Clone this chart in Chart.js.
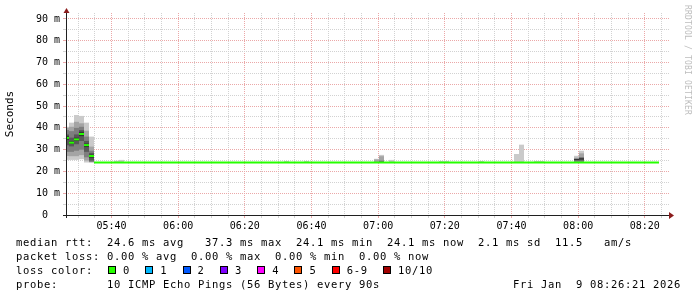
<!DOCTYPE html>
<html>
<head>
<meta charset="utf-8">
<script src="https://cdn.jsdelivr.net/npm/chart.js@4.4.1/dist/chart.umd.min.js"></script>
<style>
  html, body { margin: 0; padding: 0; background: #ffffff; }
  #wrap { position: relative; width: 697px; height: 297px; overflow: hidden; background: #ffffff; }
  #chart { position: absolute; left: 0; top: 0; }
  .txt { position: absolute; font-family: "DejaVu Sans Mono", monospace; font-size: 10.5px; letter-spacing: 0.678px;
         line-height: 14px; white-space: pre; color: #000; }
  #lossRow { display: flex; align-items: center; }
  .box { display: inline-block; width: 8px; height: 8px; box-sizing: border-box; border: 1px solid #000; margin-right: 7px; }
  .lbl { display: inline-block; margin-right: 15.3px; }
  #mark { position: absolute; left: 683px; top: 5px; font-family: "DejaVu Sans Mono", monospace; font-size: 8px;
          letter-spacing: 0.18px; line-height: 8px; writing-mode: vertical-rl; color: #bdbdbd; white-space: pre; }
</style>
</head>
<body>
<div id="wrap">
  <canvas id="chart" width="697" height="297"></canvas>
  <div class="txt" id="row1" style="left:16px; top:235px;"></div>
  <div class="txt" id="row2" style="left:16px; top:249px;"></div>
  <div class="txt" id="lossRow" style="left:16px; top:263px;"></div>
  <div class="txt" id="row4" style="left:16px; top:277px;"></div>
  <div class="txt" id="stamp" style="left:513px; top:277px;"></div>
  <div id="mark"></div>
</div>
<script>
// ---------------- data ----------------
const axisStart = '05:26:21';
const axisEnd = '08:27:15';
const yMax = 92.75;
const firstSample = '05:26:30';
const sampleStepSeconds = 90;

// median RTT (ms) per 90 s step, all with 0 % loss
const medianRtt = [
  35.4, 33.2, 34.7, 37.2, 32.1, 27.1,
  24.1, 24.1, 24.1, 24.1, 24.1, 24.1, 24.1, 24.1, 24.1, 24.1,
  24.1, 24.1, 24.1, 24.1, 24.1, 24.1, 24.1, 24.1, 24.1, 24.1,
  24.1, 24.1, 24.1, 24.1, 24.1, 24.1, 24.1, 24.1, 24.1, 24.1,
  24.1, 24.1, 24.1, 24.1, 24.1, 24.1, 24.1, 24.1, 24.1, 24.1,
  24.1, 24.1, 24.1, 24.1, 24.1, 24.1, 24.1, 24.1, 24.1, 24.1,
  24.1, 24.1, 24.1, 24.1, 24.1, 24.1, 24.1, 24.1, 24.1, 24.1,
  24.1, 24.1, 24.1, 24.1, 24.1, 24.1, 24.1, 24.1, 24.1, 24.1,
  24.1, 24.1, 24.1, 24.1, 24.1, 24.1, 24.1, 24.1, 24.1, 24.1,
  24.1, 24.1, 24.1, 24.1, 24.1, 24.1, 24.1, 24.1, 24.1, 24.1,
  24.1, 24.1, 24.1, 24.1, 24.1, 24.1, 24.1, 24.1, 24.1, 24.1,
  24.1, 24.1, 24.1, 24.1, 24.1, 24.1, 24.1, 24.1, 24.1, 24.1,
  24.1, 24.1, 24.1
];

// sample times where the smoke (10 sorted pings) is visible
const smokeTimes = [
  '05:26:30', '05:28:00', '05:29:30', '05:31:00', '05:32:30', '05:34:00',
  '05:41:30', '05:43:00', '06:32:30', '06:38:30',
  '06:59:30', '07:01:00', '07:04:00', '07:19:00', '07:20:30', '07:31:00',
  '07:41:30', '07:43:00', '07:47:30', '07:49:00', '07:59:30', '08:01:00'
];
const smokePings = [
  [25.3, 27.1, 29.0, 32.0, 34.5, 36.3, 37.0, 39.0, 40.0, 40.5],
  [25.3, 27.0, 29.0, 31.5, 32.6, 33.8, 35.5, 38.5, 40.5, 42.4],
  [25.3, 27.0, 29.5, 32.5, 34.0, 35.5, 37.0, 40.0, 42.8, 45.9],
  [25.6, 27.5, 30.0, 34.0, 36.2, 38.2, 39.0, 40.5, 42.1, 45.5],
  [24.1, 25.0, 26.5, 29.0, 31.2, 32.8, 34.0, 36.0, 38.7, 42.4],
  [24.1, 24.2, 24.4, 25.0, 26.3, 27.7, 28.5, 29.5, 31.4, 36.0],
  [24.0, 24.0, 24.1, 24.1, 24.1, 24.1, 24.2, 24.2, 24.3, 24.9],
  [24.0, 24.0, 24.1, 24.1, 24.1, 24.1, 24.2, 24.2, 24.3, 25.3],
  [24.0, 24.0, 24.1, 24.1, 24.1, 24.1, 24.2, 24.2, 24.3, 24.8],
  [24.0, 24.0, 24.1, 24.1, 24.1, 24.1, 24.2, 24.2, 24.3, 24.8],
  [24.0, 24.1, 24.1, 24.1, 24.1, 24.2, 24.2, 24.3, 25.5, 25.8],
  [24.0, 24.1, 24.1, 24.2, 24.2, 24.3, 24.5, 25.0, 27.0, 27.6],
  [24.0, 24.0, 24.1, 24.1, 24.1, 24.1, 24.2, 24.2, 24.3, 25.3],
  [24.0, 24.0, 24.1, 24.1, 24.1, 24.1, 24.2, 24.2, 24.3, 24.8],
  [24.0, 24.0, 24.1, 24.1, 24.1, 24.1, 24.2, 24.2, 24.3, 24.8],
  [24.0, 24.0, 24.1, 24.1, 24.1, 24.1, 24.2, 24.2, 24.3, 24.8],
  [24.0, 24.0, 24.1, 24.1, 24.1, 24.1, 24.2, 24.2, 24.3, 28.0],
  [24.0, 24.0, 24.1, 24.1, 24.1, 24.1, 24.2, 24.2, 24.3, 32.3],
  [24.0, 24.0, 24.1, 24.1, 24.1, 24.1, 24.2, 24.2, 24.3, 24.8],
  [24.0, 24.0, 24.1, 24.1, 24.1, 24.1, 24.2, 24.2, 24.3, 24.8],
  [24.1, 24.2, 24.5, 25.0, 25.3, 25.7, 25.7, 25.9, 26.3, 27.2],
  [24.1, 24.3, 24.5, 25.0, 25.5, 26.0, 26.3, 26.5, 28.3, 29.5]
];

const yTickValues = [0, 10, 20, 30, 40, 50, 60, 70, 80, 90];
const yTickLabels = ['0  ', '10 m', '20 m', '30 m', '40 m', '50 m', '60 m', '70 m', '80 m', '90 m'];
const xTickLabels = ['05:40', '06:00', '06:20', '06:40', '07:00', '07:20', '07:40', '08:00', '08:20'];

const lossLabels = ['0', '1', '2', '3', '4', '5', '6-9', '10/10'];
const lossColors = ['#26ff00', '#00b8ff', '#0059ff', '#7e00ff', '#ff00ff', '#ff5500', '#ff0000', '#a10000'];
const smokeColors = ['#cacaca', '#a4a4a4', '#7e7e7e', '#585858', '#323232'];

const summaryRtt = 'median rtt:  24.6 ms avg   37.3 ms max  24.1 ms min  24.1 ms now  2.1 ms sd  11.5   am/s';
const summaryLoss = 'packet loss: 0.00 % avg  0.00 % max  0.00 % min  0.00 % now';
const probeText = 'probe:       10 ICMP Echo Pings (56 Bytes) every 90s';
const stampText = 'Fri Jan  9 08:26:21 2026';
const watermark = 'RRDTOOL / TOBI OETIKER';

// ---------------- helpers ----------------
function toMin(s) { const p = s.split(':').map(Number); return p[0] * 60 + p[1] + (p[2] || 0) / 60; }
function fmtTime(v) { const h = Math.floor(v / 60), m = Math.round(v - h * 60); return String(h).padStart(2, '0') + ':' + String(m).padStart(2, '0'); }

const xMin = toMin(axisStart), xMax = toMin(axisEnd);
const sample0 = toMin(firstSample);
const medianHalfBand = yMax / 202; // about one pixel

const datasets = [];
datasets.push({
  label: 'median',
  order: 0,
  backgroundColor: lossColors[0],
  data: medianRtt.map((m, k) => ({ x: sample0 + k * sampleStepSeconds / 60, y: [m - medianHalfBand, m + medianHalfBand] }))
});
for (let layer = 0; layer < 5; layer++) {
  datasets.push({
    label: 'smoke' + (layer + 1),
    order: 5 - layer,
    backgroundColor: smokeColors[layer],
    data: smokeTimes.map((t, i) => ({ x: toMin(t), y: [smokePings[i][layer], smokePings[i][9 - layer]] }))
  });
}

const minorGrid = '#d2d2d2';
const majorGrid = '#eba8a8';
const monoFont = "'DejaVu Sans Mono', monospace";

const axesPlugin = {
  id: 'rrdAxes',
  afterDatasetsDraw(chart) {
    const { ctx, chartArea: a } = chart;
    const x0 = Math.round(a.left) + 0.5, yb = Math.round(a.bottom) + 0.5;
    ctx.save();
    ctx.strokeStyle = '#202020';
    ctx.lineWidth = 1;
    ctx.beginPath();
    ctx.moveTo(a.left - 3, yb); ctx.lineTo(a.right, yb);
    ctx.moveTo(x0, a.bottom + 3); ctx.lineTo(x0, a.top);
    ctx.stroke();
    ctx.fillStyle = '#8b1c1c';
    ctx.beginPath();
    ctx.moveTo(x0 - 3, a.top); ctx.lineTo(x0 + 3, a.top); ctx.lineTo(x0, a.top - 5); ctx.closePath(); ctx.fill();
    ctx.beginPath();
    ctx.moveTo(a.right, yb - 3.5); ctx.lineTo(a.right, yb + 3.5); ctx.lineTo(a.right + 5, yb); ctx.closePath(); ctx.fill();
    ctx.restore();
  }
};

new Chart(document.getElementById('chart'), {
  type: 'bar',
  data: { datasets },
  plugins: [axesPlugin],
  options: {
    responsive: false,
    animation: false,
    devicePixelRatio: 1,
    layout: { padding: { top: 13, right: 28, left: 0, bottom: 0 } },
    datasets: { bar: { barPercentage: 1, categoryPercentage: 1, grouped: false, borderWidth: 0, inflateAmount: 0, clip: 0 } },
    plugins: { legend: { display: false }, tooltip: { enabled: false }, title: { display: false } },
    scales: {
      x: {
        type: 'linear',
        offset: false,
        min: xMin, max: xMax,
        afterFit: s => { s.height = 82; },
        border: { display: false, dash: [1, 1] },
        grid: {
          offset: false,
          color: c => (c.tick && Math.round(c.tick.value) % 20 === 0) ? majorGrid : minorGrid,
          tickLength: 3,
          drawTicks: true
        },
        ticks: {
          stepSize: 5,
          includeBounds: false,
          autoSkip: false,
          maxRotation: 0, minRotation: 0,
          padding: 2,
          color: '#000',
          font: { family: monoFont, size: 10 },
          callback: v => { const t = fmtTime(v); return xTickLabels.includes(t) && Math.abs(v - toMin(t)) < 0.01 ? t : ''; }
        }
      },
      y: {
        type: 'linear',
        min: 0, max: yMax,
        afterFit: s => { s.width = 66; },
        border: { display: false, dash: [1, 1] },
        grid: {
          color: c => {
            if (!c.tick) return minorGrid;
            const v = Math.round(c.tick.value);
            if (v === 0) return 'rgba(0,0,0,0)';
            return v % 10 === 0 ? majorGrid : minorGrid;
          },
          tickLength: 3,
          drawTicks: true
        },
        title: { display: true, text: 'Seconds', color: '#000', font: { family: monoFont, size: 11 }, padding: { top: 4, bottom: 0 } },
        ticks: {
          stepSize: 5,
          includeBounds: false,
          autoSkip: false,
          padding: 3,
          color: '#000',
          font: { family: monoFont, size: 10 },
          callback: v => { const i = yTickValues.indexOf(Math.round(v)); return (i >= 0 && Math.abs(v - yTickValues[i]) < 0.01) ? yTickLabels[i] : ''; }
        }
      }
    }
  }
});

// ---------------- text legend ----------------
document.getElementById('row1').textContent = summaryRtt;
document.getElementById('row2').textContent = summaryLoss;
document.getElementById('row4').textContent = probeText;
document.getElementById('stamp').textContent = stampText;
document.getElementById('mark').textContent = watermark;
const lossRow = document.getElementById('lossRow');
const head = document.createElement('span');
head.textContent = 'loss color:  ';
head.style.marginRight = '1px';
lossRow.appendChild(head);
lossLabels.forEach((l, i) => {
  const b = document.createElement('span'); b.className = 'box'; b.style.background = lossColors[i];
  const t = document.createElement('span'); t.className = 'lbl'; t.textContent = l;
  lossRow.appendChild(b); lossRow.appendChild(t);
});
</script>
</body>
</html>
